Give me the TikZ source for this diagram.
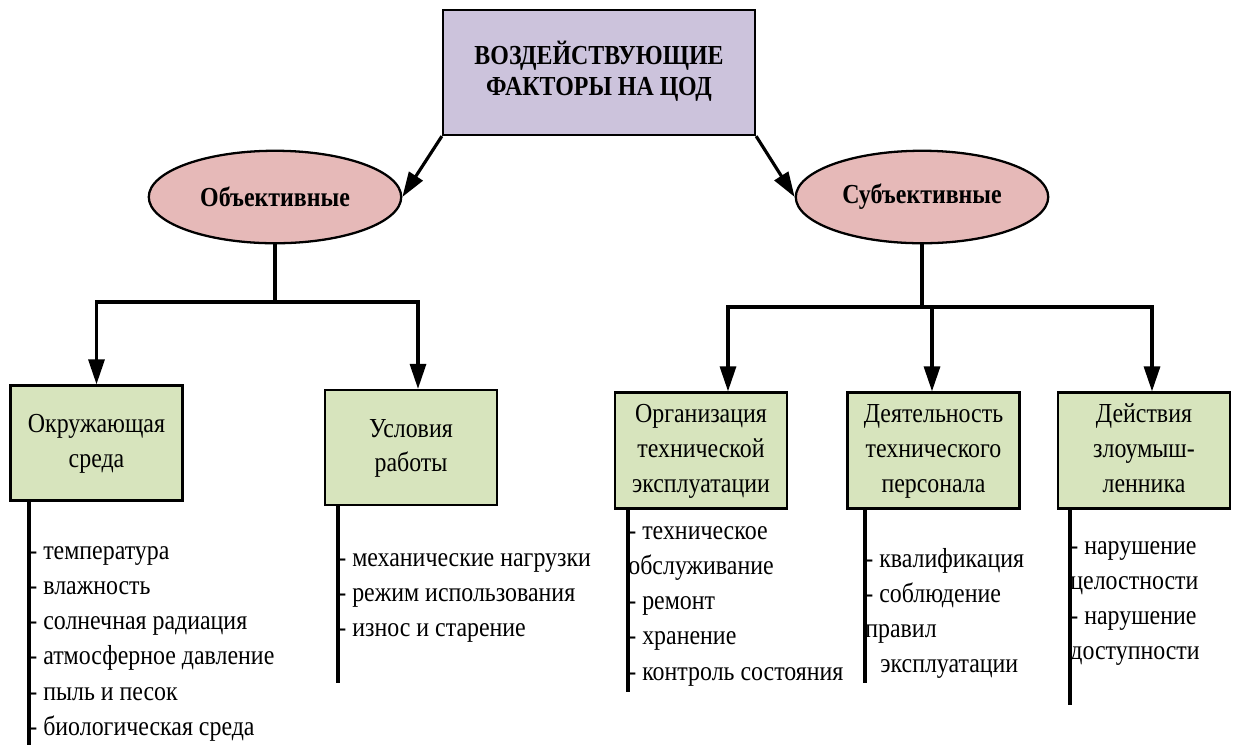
\documentclass[tikz,border=0pt]{standalone}
\usepackage{fontspec}
\setmainfont{Liberation Serif}
\usetikzlibrary{arrows.meta,shapes.geometric}
\definecolor{titlefill}{HTML}{CCC3DC}
\definecolor{ellfill}{HTML}{E6B9B8}
\definecolor{boxfill}{HTML}{D7E4BD}
\newcommand\vstack[1]{\scalebox{1}[1.15]{\begin{tabular}{@{}c@{}}#1\end{tabular}}}
\newcommand\vtall[1]{\scalebox{1}[1.15]{#1}}
\begin{document}
\begin{tikzpicture}[x=0.02cm,y=-0.02cm,
  titlebox/.style={draw, line width=1.3pt, fill=titlefill, minimum width=6.24cm, minimum height=2.5cm, font=\fontsize{13.6}{15.3}\selectfont\bfseries},
  ell/.style={ellipse, draw, line width=1.3pt, fill=ellfill, minimum width=5.05cm, minimum height=1.85cm, font=\fontsize{13.6}{17.2}\selectfont\bfseries},
  gbox/.style={draw, line width=1.3pt, fill=boxfill, minimum width=3.44cm, minimum height=2.3cm, font=\fontsize{13.6}{17.2}\selectfont},
  conn/.style={line width=1.8pt},
  arr/.style={conn, -{Triangle[length=0.5cm,width=0.32cm]}},
  item/.style={anchor=base west, inner sep=0pt, font=\fontsize{13.6}{17.2}\selectfont}
]
\useasboundingbox (0,0) rectangle (1233,745);

\node[titlebox] (title) at (599,72.5) {\vstack{ВОЗДЕЙСТВУЮЩИЕ\\ФАКТОРЫ НА ЦОД}};
\node[ell] (ellL) at (275,197) {\vtall{Объективные}};
\node[ell] (ellR) at (922,197) {\vtall{Субъективные}};

\node[gbox] (b1) at (96.5,443) {\vstack{Окружающая\\среда}};
\node[gbox] (b2) at (411,447.5) {\vstack{Условия\\работы}};
\node[gbox] (b3) at (701,450.5) {\vstack{Организация\\технической\\эксплуатации}};
\node[gbox] (b4) at (933.5,450.5) {\vstack{Деятельность\\технического\\персонала}};
\node[gbox] (b5) at (1144,450.5) {\vstack{Действия\\злоумыш-\\ленника}};

\draw[arr] (title.south west) -- (ellL.east);
\draw[arr] (title.south east) -- (ellR.west);

\coordinate (jL) at (275,302);
\coordinate (jR) at (922,307);
\draw[conn] (ellL.south) -- (jL);
\draw[conn] (ellR.south) -- (jR);
\draw[arr] (jL) -| (b1.north);
\draw[arr] (jL) -| ([xshift=0.14cm]b2.north);
\draw[arr] (jR) -| ([xshift=0.54cm]b3.north);
\draw[arr] (jR) -| ([xshift=-0.03cm]b4.north);
\draw[arr] (jR) -| ([xshift=0.16cm]b5.north);

\coordinate (e1) at (29,745);
\coordinate (e2) at (338,683);
\coordinate (e3) at (628,692);
\coordinate (e4) at (865,683);
\coordinate (e5) at (1070,705);
\draw[conn] (b1.south west -| e1) -- (e1);
\draw[conn] (b2.south west -| e2) -- (e2);
\draw[conn] (b3.south west -| e3) -- (e3);
\draw[conn] (b4.south west -| e4) -- (e4);
\draw[conn] (b5.south west -| e5) -- (e5);

\foreach \t [count=\i] in {- температура, - влажность, - солнечная радиация, - атмосферное давление, - пыль и песок, - биологическая среда}
  \node[item] (la\i) at (29,559+35.3*\i-35.3) {\vtall{\t}};
\foreach \t [count=\i] in {- механические нагрузки, - режим использования, - износ и старение}
  \node[item] (lb\i) at (338,566+35.3*\i-35.3) {\vtall{\t}};
\foreach \t [count=\i] in {- техническое, обслуживание, - ремонт, - хранение, - контроль состояния}
  \node[item] (lc\i) at (628,539+35.3*\i-35.3) {\vtall{\t}};
\foreach \dx/\t [count=\i] in {0/- квалификация, 0/- соблюдение, 0/правил, 15/эксплуатации}
  \node[item] (ld\i) at (865+\dx,567+35.3*\i-35.3) {\vtall{\t}};
\foreach \t [count=\i] in {- нарушение, целостности, - нарушение, доступности}
  \node[item] (le\i) at (1070,554+35.3*\i-35.3) {\vtall{\t}};
\end{tikzpicture}
\end{document}
